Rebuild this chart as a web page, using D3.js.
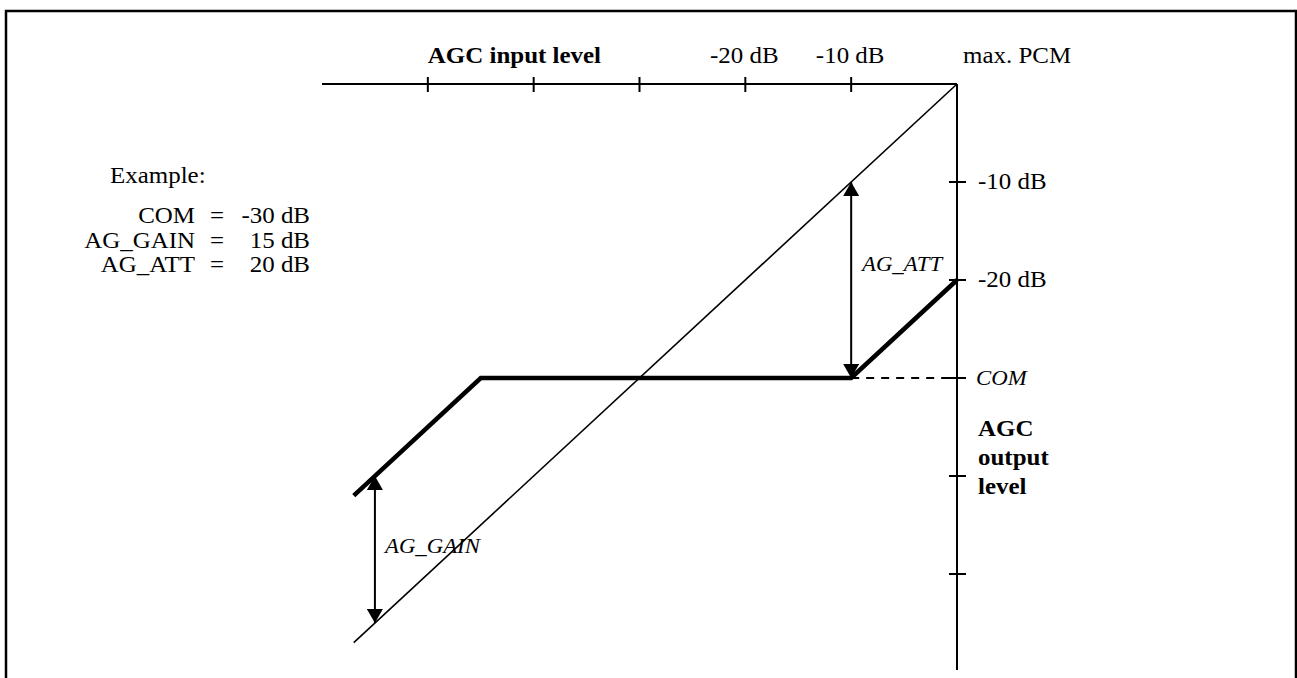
<!DOCTYPE html>
<html>
<head>
<meta charset="utf-8">
<script src="https://cdn.jsdelivr.net/npm/d3@7"></script>
<style>
  html, body { margin: 0; padding: 0; background: #fff; }
  svg { display: block; font-family: "Liberation Serif", "Times New Roman", serif; }
</style>
</head>
<body>
<svg id="chart" width="1297" height="678"></svg>
<script>
// example settings (dB)
const com = -30
const agGain = 15
const agAtt = 20

// input axis ticks (dB) and which ones get a label
const inputTicks = [-50, -40, -30, -20, -10]
const inputTickLabels = ['', '', '', '-20 dB', '-10 dB']

// output axis ticks (dB) and labels
const outputTicks = [-10, -20, -30, -40, -50]
const outputTickLabels = ['-10 dB', '-20 dB', 'COM', '', '']

// AGC characteristic: input level -> output level
const curveInput = [-57, -45, -10, 0]
const curveOutput = [-42, -30, -30, -20]

// 1:1 reference line
const identityInput = [-57, 0]

// where the two arrows sit on the input axis
const gainAt = -55
const attAt = -10

const legendLabels = ['COM', 'AG_GAIN', 'AG_ATT']
const legendValues = [com + ' dB', agGain + ' dB', agAtt + ' dB']

const svg = d3.select('#chart')
const fs = 23
const fsItalic = 21
// the original drawing is a bit wider than tall, text included
const stretch = 1.085

const x = d3.scaleLinear().domain([-60, 0]).range([322, 957])
const y = d3.scaleLinear().domain([0, -60]).range([84, 672])

/**
 * put a (horizontally stretched) text at x, y
 */
function label(sel, tx, ty, str, opt = {}) {
  return sel.append('text')
    .attr('transform', `translate(${tx},${ty}) scale(${stretch},1)`)
    .attr('text-anchor', opt.anchor || 'start')
    .attr('font-size', opt.size || fs)
    .attr('font-weight', opt.bold ? 'bold' : null)
    .attr('font-style', opt.italic ? 'italic' : null)
    .text(str)
}

// frame
svg.append('path')
  .attr('d', 'M6 690 L6 11 L1296 11 L1296 690')
  .attr('fill', 'none')
  .attr('stroke', '#000')
  .attr('stroke-width', 2.5)

// arrow heads
const defs = svg.append('defs')
defs.append('marker')
  .attr('id', 'head')
  .attr('markerUnits', 'userSpaceOnUse')
  .attr('viewBox', '0 0 14 16')
  .attr('refX', 14)
  .attr('refY', 8)
  .attr('markerWidth', 14)
  .attr('markerHeight', 16)
  .attr('orient', 'auto-start-reverse')
  .append('path')
  .attr('d', 'M0 0 L14 8 L0 16 Z')
  .attr('fill', '#000')

// input axis (top)
svg.append('line')
  .attr('x1', x(-60)).attr('x2', x(0))
  .attr('y1', y(0)).attr('y2', y(0))
  .attr('stroke', '#000').attr('stroke-width', 2)

svg.selectAll('.in-tick')
  .data(inputTicks)
  .join('line')
  .attr('class', 'in-tick')
  .attr('x1', d => x(d)).attr('x2', d => x(d))
  .attr('y1', y(0) - 7).attr('y2', y(0) + 8)
  .attr('stroke', '#000').attr('stroke-width', 2)

inputTicks.forEach((d, i) => {
  if (inputTickLabels[i]) {
    label(svg, x(d) - 1, 63, inputTickLabels[i], { anchor: 'middle' })
  }
})

label(svg, x(-50), 63, 'AGC input level', { bold: true })
label(svg, 963, 63, 'max. PCM')

// output axis (right)
svg.append('line')
  .attr('x1', x(0)).attr('x2', x(0))
  .attr('y1', y(0)).attr('y2', 670)
  .attr('stroke', '#000').attr('stroke-width', 2)

svg.selectAll('.out-tick')
  .data(outputTicks)
  .join('line')
  .attr('class', 'out-tick')
  .attr('x1', x(0) - 8).attr('x2', x(0) + 9)
  .attr('y1', d => y(d)).attr('y2', d => y(d))
  .attr('stroke', '#000').attr('stroke-width', 2)

outputTicks.forEach((d, i) => {
  const s = outputTickLabels[i]
  if (!s) return
  if (s === 'COM') {
    label(svg, x(0) + 19, y(d) + 7, s, { italic: true, size: fsItalic })
  } else {
    label(svg, x(0) + 21, y(d) + 7, s)
  }
})

;['AGC', 'output', 'level'].forEach((s, i) => {
  label(svg, 978, 436 + i * 29, s, { bold: true })
})

// 1:1 line
const line = d3.line().x(d => x(d[0])).y(d => y(d[1]))
svg.append('path')
  .attr('d', line(identityInput.map(v => [v, v])))
  .attr('fill', 'none')
  .attr('stroke', '#000')
  .attr('stroke-width', 1.6)

// dashed COM level
svg.append('line')
  .attr('x1', x(attAt)).attr('x2', x(0))
  .attr('y1', y(com)).attr('y2', y(com))
  .attr('stroke', '#000').attr('stroke-width', 2)
  .attr('stroke-dasharray', '8 7')

// AGC characteristic
svg.append('path')
  .attr('d', line(curveInput.map((v, i) => [v, curveOutput[i]])))
  .attr('fill', 'none')
  .attr('stroke', '#000')
  .attr('stroke-width', 4.5)
  .attr('stroke-linejoin', 'miter')

// arrows
function drawArrow(xv, from, to) {
  svg.append('line')
    .attr('x1', x(xv)).attr('x2', x(xv))
    .attr('y1', y(from)).attr('y2', y(to))
    .attr('stroke', '#000').attr('stroke-width', 2)
    .attr('marker-start', 'url(#head)')
    .attr('marker-end', 'url(#head)')
}
drawArrow(attAt, attAt, attAt - agAtt)
drawArrow(gainAt, gainAt + agGain, gainAt)

label(svg, 862, 271, 'AG_ATT', { italic: true, size: fsItalic })
label(svg, 385, 553, 'AG_GAIN', { italic: true, size: fsItalic })

// example block
label(svg, 110, 183, 'Example:')

legendLabels.forEach((s, i) => {
  const ty = 223 + i * 24.5
  label(svg, 195, ty, s, { anchor: 'end' })
  label(svg, 217, ty, '=', { anchor: 'middle' })
  label(svg, 310, ty, legendValues[i], { anchor: 'end' })
})
</script>
</body>
</html>
